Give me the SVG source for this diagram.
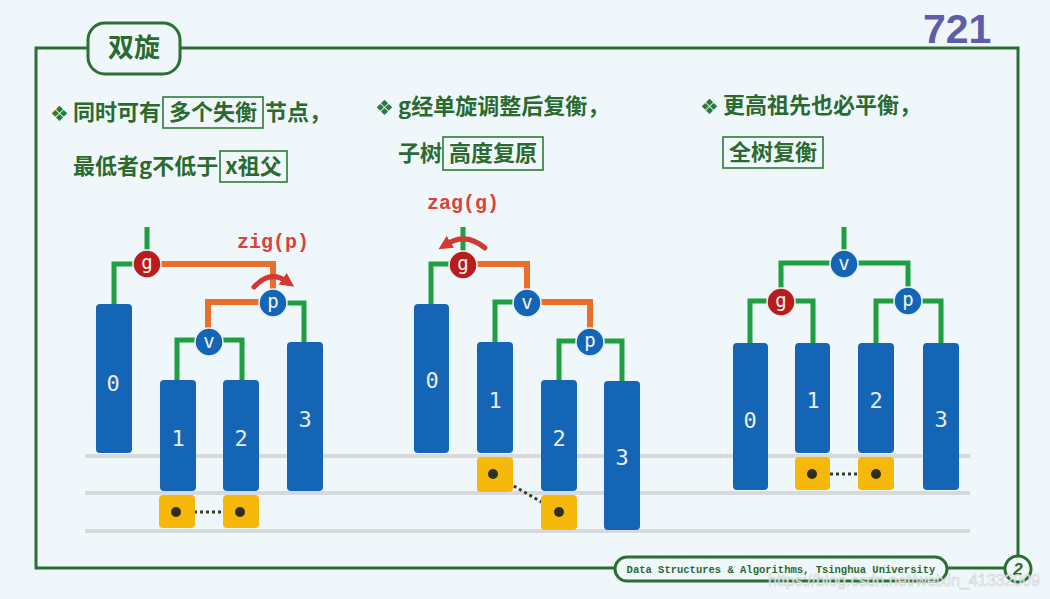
<svg xmlns="http://www.w3.org/2000/svg" width="1050" height="599" viewBox="0 0 1050 599">
<style>
.frame{fill:none;stroke:#2c6e34;stroke-width:3}
.cn{font-family:"Noto Sans CJK SC","Noto Sans",sans-serif;font-weight:bold;font-size:22px;fill:#2a6a2e}
.dia{font-family:"DejaVu Sans",sans-serif;font-size:21px;fill:#2a7a36}
.hbox{fill:none;stroke:#2e7a38;stroke-width:1.6}
.red{font-family:"Liberation Mono","DejaVu Sans Mono",monospace;font-weight:bold;font-size:20px;fill:#d8443c}
.g{fill:none;stroke:#1fa040;stroke-width:5;stroke-linejoin:miter}
.o{fill:none;stroke:#e8702a;stroke-width:6;stroke-linejoin:miter}
.bar{fill:#1565b7}
.blab{font-family:"DejaVu Sans Mono",monospace;font-size:22px;fill:#e8eef4;text-anchor:middle}
.nb{fill:#1565b7;stroke:#e8f0f8;stroke-width:1.5}
.nr{fill:#b81c1c;stroke:#e8f0f8;stroke-width:1.5}
.nlab{font-family:"DejaVu Sans Mono",monospace;font-size:19px;fill:#f4f4f4;text-anchor:middle}
.yb{fill:#f6b80c}
.dot{fill:#2f2f1a}
.dl{stroke:#3a3a20;stroke-width:3;stroke-dasharray:3 3}
.gl{stroke:#d6dadd;stroke-width:4}
.rot{fill:none;stroke:#d03a30;stroke-width:5;stroke-linecap:round}
</style>
<defs>
<marker id="rh" markerUnits="userSpaceOnUse" markerWidth="14" markerHeight="14" refX="4" refY="7" orient="auto">
<path d="M0 0 L14 7 L0 14 Z" fill="#d03a30"/>
</marker>
</defs>
<rect width="1050" height="599" fill="#f0f7fb"/>

<!-- frame -->
<g id="frame">
<path class="frame" d="M88 48 H36 V568 H615"/>
<path class="frame" d="M180 48 H1018 V556"/>
<path class="frame" d="M947 568 H1005"/>
<rect x="88" y="23" width="92" height="51" rx="17" fill="#f0f7fb" stroke="#2c6e34" stroke-width="3"/>
<text x="134" y="57" text-anchor="middle" style="font-family:'Noto Sans CJK SC',sans-serif;font-weight:bold;font-size:26px;fill:#2a6a2e">双旋</text>
<text x="923" y="43" style="font-family:'Liberation Sans',Arial,sans-serif;font-weight:bold;font-size:41px;fill:#5d5dab">721</text>
<rect x="615" y="557" width="332" height="24" rx="12" fill="#f0f7fb" stroke="#2c6e34" stroke-width="3"/>
<text x="781" y="573" text-anchor="middle" style="font-family:'Liberation Mono',monospace;font-weight:bold;font-size:10.5px;fill:#2a6a2e">Data Structures &amp; Algorithms, Tsinghua University</text>
<circle cx="1018" cy="569" r="13" fill="#f0f7fb" stroke="#2c6e34" stroke-width="3"/>
<text x="1018" y="575" text-anchor="middle" style="font-family:'Liberation Sans',sans-serif;font-style:italic;font-weight:bold;font-size:17px;fill:#2a6a2e">2</text>
</g>

<!-- texts -->
<g id="text-left">
<text class="dia" x="50" y="121">❖</text>
<text class="cn" x="73" y="120">同时可有</text>
<rect class="hbox" x="163" y="97" width="100" height="31"/>
<text class="cn" x="213" y="120" text-anchor="middle">多个失衡</text>
<text class="cn" x="265" y="120">节点，</text>
<text class="cn" x="73" y="174">最低者g不低于</text>
<rect class="hbox" x="220" y="151" width="67" height="31"/>
<text class="cn" x="253.5" y="174" text-anchor="middle">x祖父</text>
</g>
<g id="text-mid">
<text class="dia" x="375" y="115">❖</text>
<text class="cn" x="398" y="114">g经单旋调整后复衡，</text>
<text class="cn" x="398" y="161">子树</text>
<rect class="hbox" x="443" y="137" width="100" height="33"/>
<text class="cn" x="493" y="161" text-anchor="middle">高度复原</text>
</g>
<g id="text-right">
<text class="dia" x="700" y="114">❖</text>
<text class="cn" x="723" y="113">更高祖先也必平衡，</text>
<rect class="hbox" x="723" y="137" width="100" height="31"/>
<text class="cn" x="773" y="160" text-anchor="middle">全树复衡</text>
</g>

<!-- gray level lines -->
<g id="levels">
<line class="gl" x1="85" y1="456" x2="970" y2="456"/>
<line class="gl" x1="85" y1="493" x2="970" y2="493"/>
<line class="gl" x1="85" y1="531" x2="970" y2="531"/>
</g>

<!-- connectors -->
<g id="connectors">
<path class="g" d="M147 227 V264"/>
<path class="g" d="M147 264 H114 V304"/>
<path class="o" d="M147 264 H273 V303"/>
<path class="o" d="M273 302 H208 V342"/>
<path class="g" d="M273 303 H304 V342"/>
<path class="g" d="M209 340 H177 V380"/>
<path class="g" d="M209 340 H242 V380"/>

<path class="g" d="M463 227 V265"/>
<path class="g" d="M463 264 H431 V304"/>
<path class="o" d="M463 264 H527 V303"/>
<path class="g" d="M527 302 H495 V342"/>
<path class="o" d="M527 302 H590 V342"/>
<path class="g" d="M590 341 H559 V380"/>
<path class="g" d="M590 341 H622 V381"/>

<path class="g" d="M844 227 V264"/>
<path class="g" d="M844 263 H781 V302"/>
<path class="g" d="M844 263 H908 V301"/>
<path class="g" d="M781 301 H750 V343"/>
<path class="g" d="M781 301 H813 V343"/>
<path class="g" d="M908 301 H876 V343"/>
<path class="g" d="M908 301 H941 V343"/>

<line class="dl" x1="176" y1="512" x2="240" y2="512"/>
<line class="dl" x1="493" y1="474" x2="559" y2="512"/>
<line class="dl" x1="812" y1="474" x2="876" y2="474"/>
</g>

<!-- tree 1 -->
<g id="t1-bar0"><rect class="bar" x="96" y="304" width="36" height="149" rx="4"/><text class="blab" x="113" y="391">0</text></g>
<g id="t1-bar1"><rect class="bar" x="160" y="380" width="36" height="111" rx="4"/><text class="blab" x="178" y="446">1</text></g>
<g id="t1-bar2"><rect class="bar" x="223" y="380" width="36" height="111" rx="4"/><text class="blab" x="241" y="446">2</text></g>
<g id="t1-bar3"><rect class="bar" x="287" y="342" width="36" height="149" rx="4"/><text class="blab" x="305" y="427">3</text></g>
<g id="t1-y1"><rect class="yb" x="159" y="495" width="36" height="33" rx="4"/><circle class="dot" cx="176" cy="512" r="5"/></g>
<g id="t1-y2"><rect class="yb" x="223" y="495" width="36" height="33" rx="4"/><circle class="dot" cx="240" cy="512" r="5"/></g>
<g id="t1-g"><circle class="nr" cx="147" cy="264" r="14"/><text class="nlab" x="147" y="269">g</text></g>
<g id="t1-p"><circle class="nb" cx="273" cy="303" r="14"/><text class="nlab" x="273" y="308">p</text></g>
<g id="t1-v"><circle class="nb" cx="209" cy="342" r="14"/><text class="nlab" x="209" y="348">v</text></g>
<g id="t1-rot"><path class="rot" d="M254 287 Q270 270 286 281" marker-end="url(#rh)"/><text class="red" x="237" y="248">zig(p)</text></g>

<!-- tree 2 -->
<g id="t2-bar0"><rect class="bar" x="414" y="304" width="35" height="149" rx="4"/><text class="blab" x="432" y="388">0</text></g>
<g id="t2-bar1"><rect class="bar" x="477" y="342" width="36" height="111" rx="4"/><text class="blab" x="495" y="408">1</text></g>
<g id="t2-bar2"><rect class="bar" x="541" y="380" width="36" height="111" rx="4"/><text class="blab" x="559" y="446">2</text></g>
<g id="t2-bar3"><rect class="bar" x="604" y="381" width="36" height="149" rx="4"/><text class="blab" x="622" y="465">3</text></g>
<g id="t2-y1"><rect class="yb" x="477" y="457" width="36" height="35" rx="4"/><circle class="dot" cx="493" cy="474" r="5"/></g>
<g id="t2-y2"><rect class="yb" x="541" y="495" width="36" height="35" rx="4"/><circle class="dot" cx="559" cy="512" r="5"/></g>
<g id="t2-g"><circle class="nr" cx="463" cy="265" r="14"/><text class="nlab" x="463" y="270">g</text></g>
<g id="t2-v"><circle class="nb" cx="527" cy="303" r="14"/><text class="nlab" x="527" y="309">v</text></g>
<g id="t2-p"><circle class="nb" cx="590" cy="342" r="14"/><text class="nlab" x="590" y="347">p</text></g>
<g id="t2-rot"><path class="rot" d="M485 248 Q466 232 447 244" marker-end="url(#rh)"/><text class="red" x="427" y="209">zag(g)</text></g>

<!-- tree 3 -->
<g id="t3-bar0"><rect class="bar" x="733" y="343" width="35" height="147" rx="4"/><text class="blab" x="750" y="428">0</text></g>
<g id="t3-bar1"><rect class="bar" x="795" y="343" width="35" height="110" rx="4"/><text class="blab" x="813" y="408">1</text></g>
<g id="t3-bar2"><rect class="bar" x="858" y="343" width="36" height="110" rx="4"/><text class="blab" x="876" y="408">2</text></g>
<g id="t3-bar3"><rect class="bar" x="923" y="343" width="36" height="147" rx="4"/><text class="blab" x="941" y="427">3</text></g>
<g id="t3-y1"><rect class="yb" x="795" y="457" width="35" height="33" rx="4"/><circle class="dot" cx="812" cy="474" r="5"/></g>
<g id="t3-y2"><rect class="yb" x="858" y="457" width="36" height="33" rx="4"/><circle class="dot" cx="876" cy="474" r="5"/></g>
<g id="t3-v"><circle class="nb" cx="844" cy="264" r="14"/><text class="nlab" x="844" y="270">v</text></g>
<g id="t3-g"><circle class="nr" cx="781" cy="302" r="14"/><text class="nlab" x="781" y="307">g</text></g>
<g id="t3-p"><circle class="nb" cx="908" cy="301" r="14"/><text class="nlab" x="908" y="306">p</text></g>

<text x="768" y="586" textLength="272" style="font-family:'Liberation Sans',sans-serif;font-size:16px;fill:#ffffff;stroke:#c4c8cc;stroke-width:0.6;opacity:0.85">https://blog.csdn.net/weixin_41332009</text>
</svg>
